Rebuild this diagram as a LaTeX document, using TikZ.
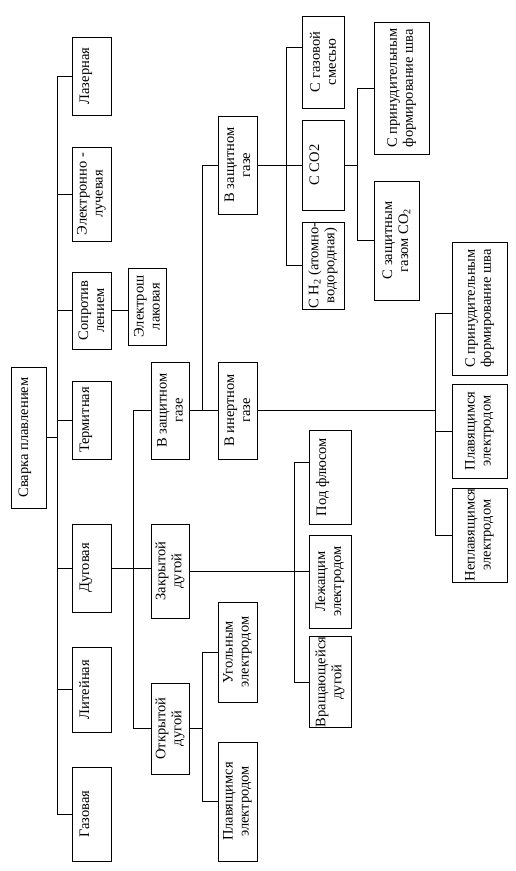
\documentclass[tikz,border=0pt]{standalone}
\usepackage{fontspec}
\setmainfont{Liberation Serif}
\begin{document}
\begin{tikzpicture}[x=1pt,y=-1pt,line width=.9pt,
  font=\fontsize{14.5pt}{16pt}\selectfont,
  box/.style 2 args={draw,rotate=90,align=center,inner sep=0pt,
    minimum width=#1,minimum height=#2},
  one/.style={text height=17pt,text depth=#1}]
  \fill[white] (0,0) rectangle (515,871);
  % root and welding kinds
  \node[box={141pt}{35pt},one={18pt}] (root) at (28.5,437.5) {Сварка плавлением};
  \node[box={78pt}{39pt},one={22pt}] (laser) at (91.5,76) {Лазерная};
  \node[box={94pt}{39pt}] (ebeam) at (91.5,194) {Электронно -\\лучевая};
  \node[box={77pt}{39pt}] (resist) at (91.5,310.5) {Сопротив\\лением};
  \node[box={78pt}{39pt},one={22pt}] (thermit) at (91.5,420) {Термитная};
  \node[box={88pt}{39pt},one={22pt}] (arc) at (91.5,568) {Дуговая};
  \node[box={85pt}{39pt},one={22pt}] (cast) at (91.5,689.5) {Литейная};
  \node[box={94pt}{39pt},one={22pt}] (gas) at (91.5,814) {Газовая};
  \node[box={77pt}{38pt}] (slag) at (147,306.5) {Электрош\\лаковая};
  % arc welding
  \node[box={97pt}{38pt}] (shield) at (170,410.5) {В защитном\\газе};
  \node[box={94pt}{38pt}] (closed) at (170,571) {Закрытой\\дугой};
  \node[box={91pt}{38pt}] (open) at (170,728.5) {Открытой\\дугой};
  \node[box={98pt}{39pt}] (active) at (237.5,165) {В защитном\\газе};
  \node[box={97pt}{39pt}] (inert) at (237.5,410.5) {В инертном\\газе};
  \node[box={100pt}{39pt}] (carbon) at (237.5,652) {Угольным\\электродом};
  \node[box={119pt}{39pt}] (melt) at (237.5,801.5) {Плавящимся\\электродом};
  % shielding gases
  \node[box={92pt}{42pt}] (mix) at (323,62) {С газовой\\смесью};
  \node[box={90pt}{42pt},one={25pt}] (co2) at (323,165) {С CO2};
  \node[box={87pt}{42pt}] (hydro) at (323,265.5)
    {С H\textsubscript{2} (атомно-\\водородная)};
  \node[box={132pt}{55pt}] (forcedA) at (401.5,88)
    {С принудительным\\формирование шва};
  \node[box={119pt}{45pt}] (co2gas) at (396.5,240.5)
    {С защитным\\газом CO\textsubscript{2}};
  \node[box={133pt}{55pt}] (forcedB) at (479.5,308.5)
    {С принудительным\\формирование шва};
  \node[box={94pt}{55pt}] (meltB) at (479.5,431) {Плавящимся\\электродом};
  \node[box={94pt}{55pt}] (nonmelt) at (479.5,535) {Неплавящимся\\электродом};
  % closed arc
  \node[box={94pt}{42pt},one={25pt}] (flux) at (330,477) {Под флюсом};
  \node[box={93pt}{42pt}] (lying) at (330,581.5) {Лежащим\\электродом};
  \node[box={88pt}{42pt}] (rotary) at (330,682) {Вращающейся\\дугой};

  \coordinate (t1) at (57,0);
  \coordinate (t2) at (133,0);
  \coordinate (t3) at (202,0);
  \coordinate (t4) at (286,0);
  \coordinate (t5) at (357,0);
  \coordinate (t6) at (435,0);
  \coordinate (t7) at (294,0);
  \draw (root.south) -- (root.south -| t1);
  \draw (laser.north) -| (t1 |- gas.north) -- (gas.north);
  \foreach \n in {ebeam,resist,thermit,arc,cast}
    \draw (\n.north) -- (\n.north -| t1);
  \draw (resist.south) -- (resist.south -| slag.north);
  \draw (arc.south) -- (arc.south -| closed.north);
  \draw (shield.north) -| (t2 |- open.north) -- (open.north);
  \draw (shield.south) -- (inert.north);
  \draw (t3 |- shield.south) |- (active.north);
  \draw (open.south) -- (open.south -| t3);
  \draw (carbon.north) -| (t3 |- melt.north) -- (melt.north);
  \draw (active.south) -- (co2.north);
  \draw ([yshift=15pt]mix.north) -| (t4 |- hydro.north) -- (hydro.north);
  \draw (co2.south) -- (co2.south -| t5);
  \draw (forcedA.north) -| (t5 |- co2gas.north) -- (co2gas.north);
  \draw (inert.south) -- (inert.south -| t6);
  \draw ([yshift=-4.5pt]forcedB.north) -| (t6 |- nonmelt.north) -- (nonmelt.north);
  \draw (meltB.north) -- (meltB.north -| t6);
  \draw (closed.south) -- (closed.south -| lying.north);
  \draw ([yshift=15pt]flux.north) -| (t7 |- rotary.north) -- (rotary.north);
\end{tikzpicture}
\end{document}
